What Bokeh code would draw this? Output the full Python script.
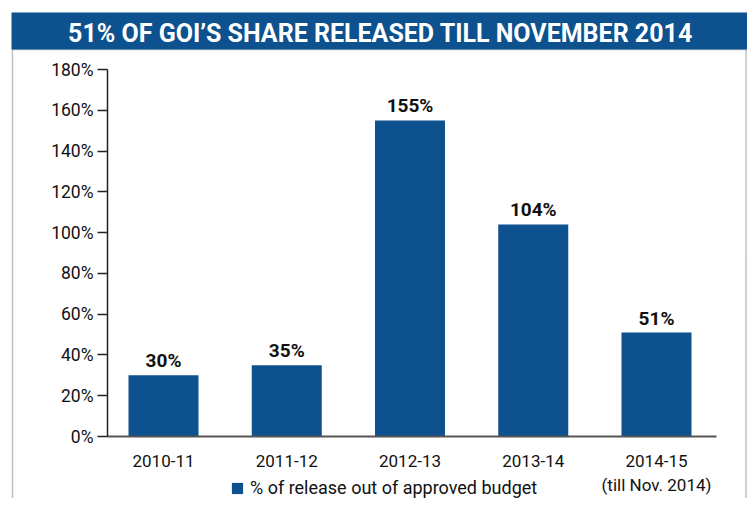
from bokeh.plotting import figure
from bokeh.models import (Range1d, FixedTicker, PrintfTickFormatter, BoxAnnotation,
                          Label, Legend, LegendItem, ColumnDataSource)
from bokeh.core.properties import value
from bokeh.embed import file_html
from bokeh.resources import INLINE

# ---- data ----
title_text = "51% OF GOI\u2019S SHARE RELEASED TILL NOVEMBER 2014"
categories = ["2010-11", "2011-12", "2012-13", "2013-14", "2014-15\n(till Nov. 2014)"]
release_pct = [30, 35, 155, 104, 51]
y_ticks = [0, 20, 40, 60, 80, 100, 120, 140, 160, 180]
series_name = "% of release out of approved budget"

# ---- style / layout constants (pixels) ----
BLUE = "#0D518F"
INK = "#111111"
FONT = "Roboto"
W, H = 747, 498
CAT_W = 123.25          # px per category
X0 = 163.0              # px of first category centre
AXIS_L, AXIS_R = 107, 716
Y_ZERO = 436            # px of 0%
PX_PER_UNIT = 367 / 180


def px_to_x(px):
    return (px - X0) / CAT_W


def px_to_y(py):
    return (Y_ZERO - py) / PX_PER_UNIT


idx = list(range(len(categories)))
p = figure(width=W, height=H,
           x_range=Range1d(px_to_x(0), px_to_x(W)),
           y_range=Range1d(px_to_y(H), px_to_y(0)),
           output_backend="svg", toolbar_location=None,
           min_border_left=0, min_border_right=0, min_border_top=0, min_border_bottom=0)
p.background_fill_color = "white"
p.border_fill_color = "white"
p.outline_line_color = None
p.xgrid.grid_line_color = None
p.ygrid.grid_line_color = None

# box border (left / right rules below the title band)
p.add_layout(BoxAnnotation(left=px_to_x(12), right=px_to_x(W - 1.5),
                           top=px_to_y(49), bottom=px_to_y(H + 20),
                           fill_alpha=0, line_color="#333333", line_width=1.5))
# title band
p.add_layout(BoxAnnotation(left=px_to_x(11), right=px_to_x(W + 5),
                           top=px_to_y(12), bottom=px_to_y(49),
                           fill_color=BLUE, fill_alpha=1, line_color=None))
p.add_layout(Label(x=px_to_x(380), y=px_to_y(30.5), y_offset=-2, text=title_text,
                   text_align="center", text_baseline="middle", text_color="white",
                   text_font=FONT, text_font_style="bold", text_font_size="25px"))

source = ColumnDataSource(dict(x=idx, cat=categories, pct=release_pct,
                               lbl=[f"{v}%" for v in release_pct]))
bars = p.vbar(x="x", top="pct", width=70 / CAT_W, source=source,
              fill_color=BLUE, line_color=None)
p.text(x="x", y="pct", text="lbl", source=source, text_align="center",
       text_baseline="bottom", y_offset=-3, text_font=value(FONT),
       text_font_style="bold", text_font_size="19px", text_color=INK)

# y axis
ya = p.yaxis[0]
ya.fixed_location = px_to_x(AXIS_L)
ya.bounds = (y_ticks[0], y_ticks[-1])
ya.ticker = FixedTicker(ticks=y_ticks)
ya.formatter = PrintfTickFormatter(format="%d%%")
ya.axis_line_color = "#222222"
ya.axis_line_width = 1.5
ya.major_tick_line_color = "#222222"
ya.major_tick_line_width = 1.5
ya.major_tick_out = 10
ya.major_tick_in = 0
ya.minor_tick_out = 0
ya.minor_tick_in = 0
ya.major_label_standoff = 4
ya.major_label_text_font = FONT
ya.major_label_text_font_size = "17.5px"
ya.major_label_text_color = INK

# x axis
xa = p.xaxis[0]
xa.fixed_location = 0
xa.bounds = (px_to_x(AXIS_L), px_to_x(AXIS_R))
xa.ticker = FixedTicker(ticks=idx)
xa.major_label_overrides = {i: c for i, c in zip(idx, categories)}
xa.axis_line_color = "#555555"
xa.axis_line_width = 2
xa.major_tick_out = 0
xa.major_tick_in = 0
xa.minor_tick_out = 0
xa.minor_tick_in = 0
xa.major_label_standoff = 14
xa.major_label_text_font = FONT
xa.major_label_text_font_size = "17px"
xa.major_label_text_color = INK

# legend
legend = Legend(items=[LegendItem(label=series_name, renderers=[bars])],
                location=(230, 0), glyph_width=14, glyph_height=14,
                padding=0, margin=0, label_standoff=6, border_line_color=None,
                background_fill_alpha=0, label_text_font=FONT,
                label_text_font_size="18px", label_text_color=INK)
p.add_layout(legend)

open("out.html", "w").write(file_html(p, INLINE))
